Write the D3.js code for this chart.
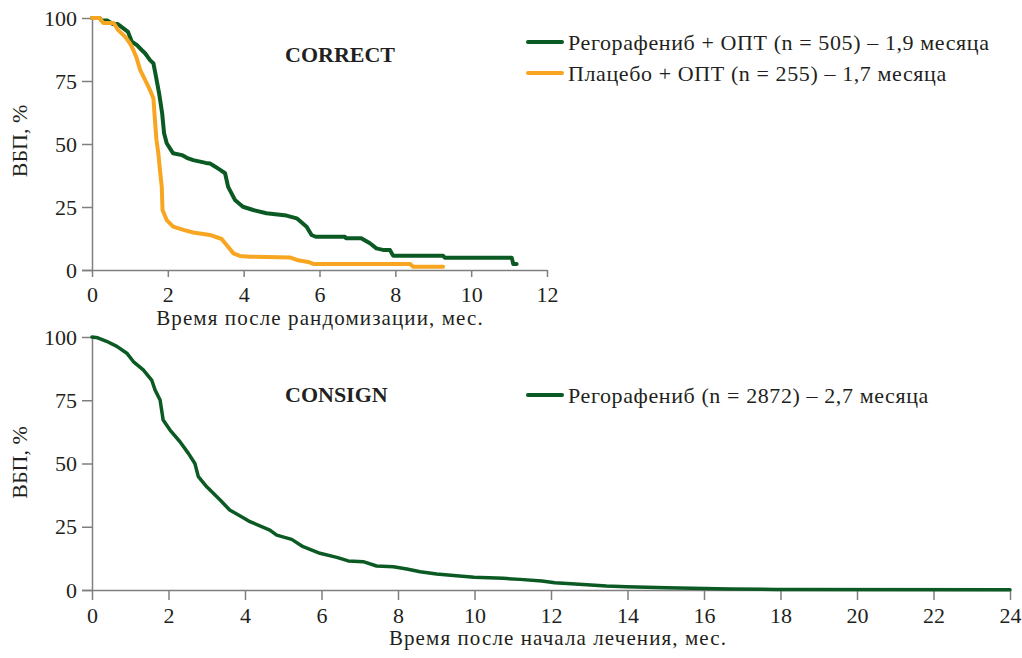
<!DOCTYPE html>
<html><head><meta charset="utf-8">
<script src="https://cdn.jsdelivr.net/npm/d3@7"></script>
<style>
html,body{margin:0;padding:0;background:#fff;}
svg text{font-family:"Liberation Serif","DejaVu Serif",serif;fill:#231f20;}
</style></head>
<body><svg id="c" width="1022" height="658"></svg>
<script>
// ---- data ----
const correctTicksX = [0,2,4,6,8,10,12];
const consignTicksX = [0,2,4,6,8,10,12,14,16,18,20,22,24];
const ticksY = [0,25,50,75,100];

const correctRegorafenib = [[0,100],[0.2,100],[0.25,99],[0.4,99],[0.55,97.6],[0.68,97.6],[0.82,96],[0.95,94.5],[1.05,90.6],[1.18,89.3],[1.31,87.3],[1.4,86],[1.53,83.3],[1.62,82],[1.67,78.1],[1.77,70.1],[1.85,62.2],[1.9,54.4],[1.97,50.3],[2.14,46.3],[2.37,45.6],[2.5,44.5],[2.67,43.6],[3.0,42.5],[3.11,42.3],[3.25,41],[3.38,39.7],[3.51,38.4],[3.59,33],[3.77,27.8],[3.98,25.1],[4.25,23.8],[4.6,22.5],[5.13,21.6],[5.4,20.5],[5.66,17.2],[5.79,13.9],[5.9,13.2],[6.67,13.2],[6.7,12.6],[7.1,12.6],[7.33,10.6],[7.5,8.6],[7.7,7.9],[7.86,7.9],[7.94,5.7],[9.26,5.7],[9.3,4.9],[11.07,4.9],[11.11,2.4],[11.2,2.4]];
const correctPlacebo = [[0,100],[0.2,100],[0.3,98],[0.57,98],[0.69,95.2],[0.87,92.6],[1.0,90],[1.09,87.3],[1.18,84],[1.27,79.4],[1.4,75.4],[1.53,71.4],[1.62,68.1],[1.66,59.5],[1.7,51.6],[1.75,46.3],[1.79,40],[1.84,33],[1.86,23.8],[1.97,19.8],[2.14,17.2],[2.41,15.9],[2.67,14.9],[3.11,13.9],[3.42,12.3],[3.55,9.9],[3.73,6.6],[3.9,5.6],[4.17,5.3],[5.22,5.0],[5.4,4.0],[5.7,3.2],[5.84,2.4],[8.39,2.4],[8.47,1.3],[9.26,1.3]];
const consignRegorafenib = [[0,100],[0.15,99.7],[0.38,98.3],[0.65,96.3],[0.91,93.6],[1.08,90.3],[1.34,87],[1.56,83],[1.65,79],[1.78,75.1],[1.86,67.2],[2.04,63.2],[2.3,58.6],[2.52,54],[2.69,50],[2.78,44.8],[3.0,40.8],[3.35,35.6],[3.6,31.6],[4.0,28.2],[4.13,27],[4.65,23.7],[4.83,21.7],[5.22,20],[5.52,17.1],[5.96,14.5],[6.4,12.9],[6.7,11.5],[7.09,11.2],[7.44,9.5],[7.88,9.2],[8.23,8.3],[8.58,7.2],[9.01,6.3],[9.45,5.7],[9.99,5.0],[10.75,4.6],[11.19,4.2],[11.76,3.6],[12.1,2.9],[12.84,2.2],[13.45,1.6],[13.98,1.3],[15.02,0.9],[16.68,0.4],[17.9,0.2],[24,0.1]];

const legendCorrect = ["Регорафениб + ОПТ (n = 505) – 1,9 месяца","Плацебо + ОПТ (n = 255) – 1,7 месяца"];
const legendConsign = ["Регорафениб (n = 2872) – 2,7 месяца"];
const titles = ["CORRECT","CONSIGN"];
const xLabels = ["Время после рандомизации, мес.","Время после начала лечения, мес."];
const yLabel = "ВБП, %";

const GREEN = "#0b5a23", ORANGE = "#f8a622", AXIS = "#7f7f7f";
const svg = d3.select("#c");

function panel(o){
  const x = d3.scaleLinear().domain([0,o.xmax]).range([o.x0,o.x1]);
  const y = d3.scaleLinear().domain([0,100]).range([o.y0,o.y1]);
  const g = svg.append("g");
  // x axis
  const ax = d3.axisBottom(x).tickValues(o.ticks).tickSize(o.tl).tickSizeOuter(0).tickPadding(o.xpad);
  const gx = g.append("g").attr("transform",`translate(0,${o.y0})`).call(ax);
  gx.select(".domain").attr("stroke",AXIS).attr("stroke-width",1.5)
    .attr("d",`M${o.x0-10},0.5H${o.x1}`);
  gx.selectAll(".tick line").attr("stroke",AXIS).attr("stroke-width",1.5);
  gx.selectAll(".tick text").attr("font-size",22).attr("fill","#231f20");
  // y axis
  const ay = d3.axisLeft(y).tickValues(ticksY).tickSize(10).tickSizeOuter(0).tickPadding(5);
  const gy = g.append("g").attr("transform",`translate(${o.x0},0)`).call(ay);
  gy.select(".domain").attr("stroke",AXIS).attr("stroke-width",1.5);
  gy.selectAll(".tick line").attr("stroke",AXIS).attr("stroke-width",1.5);
  gy.selectAll(".tick text").attr("font-size",22).attr("fill","#231f20");
  // labels
  g.append("text").attr("x",o.lblX).attr("y",o.y0+55).attr("text-anchor","middle")
    .attr("font-size",21).attr("letter-spacing",1.1).text(o.xlabel);
  g.append("text").attr("transform",`translate(27,${(o.y0+o.y1)/2+o.ylDy}) rotate(-90)`)
    .attr("text-anchor","middle").attr("font-size",22).text(yLabel);
  g.append("text").attr("x",285).attr("y",o.titleY).attr("font-size",22).attr("font-weight","bold").text(o.title);
  // lines
  const line = d3.line().x(d=>x(d[0])).y(d=>y(d[1]));
  o.series.forEach(s=>{
    g.append("path").datum(s.data).attr("d",line).attr("fill","none")
      .attr("stroke",s.color).attr("stroke-width",o.sw).attr("stroke-linejoin","round").attr("stroke-linecap","round");
  });
  // legend
  o.legend.forEach((t,i)=>{
    const ly = o.legY + i*31;
    g.append("line").attr("x1",528).attr("x2",562).attr("y1",ly).attr("y2",ly)
      .attr("stroke",o.series[i].color).attr("stroke-width",4).attr("stroke-linecap","round");
    g.append("text").attr("x",568).attr("y",ly+8).attr("font-size",22).attr("letter-spacing",0.6).text(t);
  });
}

panel({xmax:12,x0:92,x1:547,y0:270,y1:18,ticks:correctTicksX,tl:7,xpad:9,xlabel:xLabels[0],lblX:320,ylDy:-3,title:titles[0],titleY:62,sw:4,
  series:[{data:correctRegorafenib,color:GREEN},{data:correctPlacebo,color:ORANGE}],legend:legendCorrect,legY:42});
panel({xmax:24,x0:92,x1:1010,y0:590,y1:337,ticks:consignTicksX,tl:10,xpad:7,xlabel:xLabels[1],lblX:558,ylDy:-1,title:titles[1],titleY:402,sw:3.5,
  series:[{data:consignRegorafenib,color:GREEN}],legend:legendConsign,legY:395});
</script></body></html>
